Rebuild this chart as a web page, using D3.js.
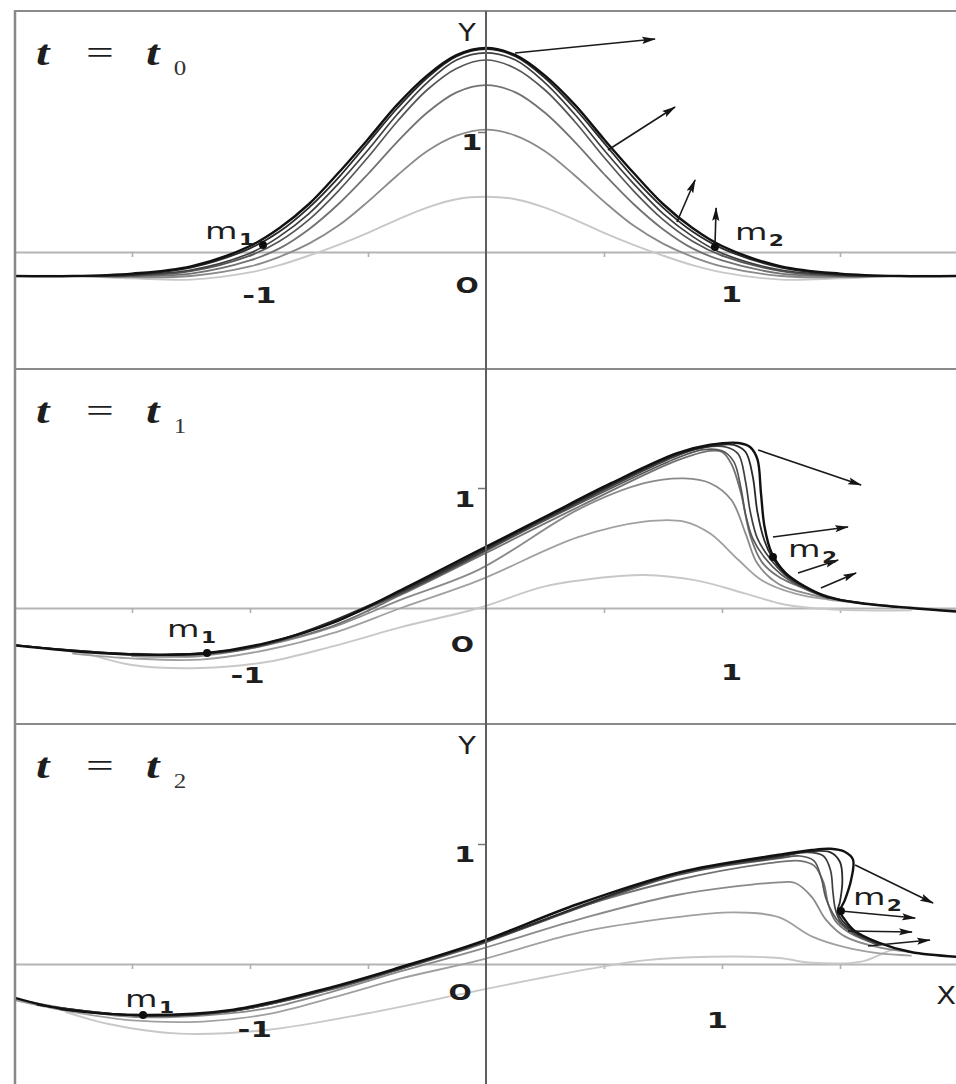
<!DOCTYPE html>
<html>
<head>
<meta charset="utf-8">
<script src="https://cdn.jsdelivr.net/npm/d3@7"></script>
<style>
  html, body { margin: 0; padding: 0; background: #fff; }
  svg { display: block; }
</style>
</head>
<body>
<svg id="fig" width="956" height="1084"></svg>
<script>
// ---------------- data ----------------
// Sample abscissae shared by the t = t0 profiles
const xGrid0 = [-2,-1.75,-1.5,-1.25,-1,-0.875,-0.75,-0.625,-0.5,-0.375,-0.25,-0.125,0,
                0.125,0.25,0.375,0.5,0.625,0.75,0.875,1,1.25,1.5,1.75,2];

// t = t0 : symmetric bell-shaped profiles
const t0Black = [-0.2,-0.2,-0.18,-0.12,0.05,0.2,0.4,0.66,0.94,1.23,1.47,1.64,1.70,1.64,1.47,1.23,0.94,0.66,0.4,0.2,0.05,-0.12,-0.18,-0.2,-0.2];
const t0Dark1 = [-0.2,-0.2,-0.19,-0.13,0.03,0.17,0.37,0.62,0.91,1.2,1.45,1.63,1.69,1.63,1.45,1.2,0.91,0.62,0.37,0.17,0.03,-0.13,-0.19,-0.2,-0.2];
const t0Dark2 = [-0.2,-0.2,-0.19,-0.15,-0.01,0.13,0.32,0.57,0.85,1.15,1.41,1.6,1.66,1.6,1.41,1.15,0.85,0.57,0.32,0.13,-0.01,-0.15,-0.19,-0.2,-0.2];
const t0Dark3 = [-0.2,-0.2,-0.2,-0.16,-0.03,0.09,0.27,0.51,0.79,1.09,1.35,1.53,1.6,1.53,1.35,1.09,0.79,0.51,0.27,0.09,-0.03,-0.16,-0.2,-0.2,-0.2];
const t0Grey1 = [-0.2,-0.2,-0.2,-0.18,-0.07,0.03,0.19,0.4,0.65,0.92,1.16,1.33,1.39,1.33,1.16,0.92,0.65,0.4,0.19,0.03,-0.07,-0.18,-0.2,-0.2,-0.2];
const t0Grey2 = [-0.2,-0.2,-0.21,-0.2,-0.12,-0.04,0.07,0.22,0.42,0.64,0.84,0.97,1.02,0.97,0.84,0.64,0.42,0.22,0.07,-0.04,-0.12,-0.2,-0.21,-0.2,-0.2];
const t0Grey3 = [-0.2,-0.2,-0.22,-0.23,-0.17,-0.11,-0.03,0.06,0.16,0.27,0.37,0.44,0.46,0.44,0.37,0.27,0.16,0.06,-0.03,-0.11,-0.17,-0.23,-0.22,-0.2,-0.2];

// t = t1 : steepening profiles, [x, y]
const t1Black = [[-2,-0.31],[-1.64,-0.375],[-1.35,-0.39],[-1.18,-0.375],[-0.93,-0.29],[-0.65,-0.125],[-0.36,0.15],[-0.03,0.48],[0.25,0.76],[0.53,1.04],[0.81,1.29],[0.95,1.36],[1.07,1.375],[1.12,1.34],[1.15,1.24],[1.165,0.96],[1.18,0.68],[1.21,0.46],[1.27,0.29],[1.35,0.18],[1.45,0.09],[1.59,0.04],[1.8,0.0],[2.0,-0.03]];
const t1Dark1 = [[-2,-0.31],[-1.35,-0.39],[-0.93,-0.295],[-0.36,0.14],[0.25,0.75],[0.81,1.28],[0.95,1.35],[1.05,1.36],[1.1,1.3],[1.13,1.1],[1.15,0.8],[1.18,0.56],[1.21,0.43],[1.27,0.28],[1.35,0.18],[1.45,0.09],[1.6,0.04]];
const t1Dark2 = [[-2,-0.31],[-1.35,-0.39],[-0.93,-0.3],[-0.36,0.13],[0.25,0.74],[0.81,1.27],[0.93,1.34],[1.02,1.34],[1.07,1.28],[1.1,1.05],[1.12,0.8],[1.15,0.58],[1.2,0.42],[1.27,0.27],[1.35,0.17],[1.45,0.09]];
const t1Dark3 = [[-1.6,-0.38],[-1.2,-0.385],[-0.93,-0.305],[-0.36,0.12],[0.25,0.73],[0.81,1.25],[0.92,1.32],[1.0,1.31],[1.05,1.22],[1.08,1.0],[1.1,0.78],[1.13,0.58],[1.18,0.42],[1.25,0.28],[1.35,0.16],[1.45,0.08]];
const t1Grey1 = [[-1.5,-0.38],[-1.21,-0.38],[-0.93,-0.3],[-0.65,-0.15],[-0.36,0.11],[-0.03,0.43],[0.4,0.85],[0.81,1.23],[0.95,1.31],[1.0,1.3],[1.04,1.2],[1.08,0.96],[1.12,0.6],[1.17,0.38],[1.24,0.26],[1.38,0.14],[1.5,0.07]];
const t1Grey2 = [[-1.5,-0.4],[-1.21,-0.4],[-0.93,-0.31],[-0.65,-0.16],[-0.36,0.07],[-0.03,0.32],[0.39,0.82],[0.67,1.04],[0.84,1.08],[0.95,1.04],[1.04,0.9],[1.1,0.62],[1.15,0.37],[1.24,0.2],[1.38,0.11],[1.55,0.05],[1.8,0.0]];
const t1Grey3 = [[-1.75,-0.38],[-1.5,-0.42],[-1.21,-0.43],[-0.93,-0.35],[-0.65,-0.21],[-0.36,0.0],[-0.03,0.23],[0.39,0.59],[0.67,0.72],[0.84,0.72],[0.95,0.62],[1.07,0.4],[1.17,0.23],[1.31,0.12],[1.45,0.07],[1.7,0.02],[2,-0.02]];
const t1Grey4 = [[-1.85,-0.34],[-1.71,-0.375],[-1.5,-0.475],[-1.21,-0.5],[-0.93,-0.45],[-0.65,-0.32],[-0.36,-0.16],[-0.03,0.0],[0.25,0.18],[0.53,0.26],[0.67,0.275],[0.89,0.23],[1.1,0.12],[1.24,0.04],[1.38,0.0],[1.6,-0.02],[1.8,-0.02]];

// t = t2 : overturning profiles, [x, y]
const t2Black = [[-2,-0.28],[-1.78,-0.38],[-1.45,-0.425],[-1.07,-0.38],[-0.65,-0.19],[-0.36,-0.025],[-0.03,0.18],[0.39,0.5],[0.81,0.76],[1.24,0.91],[1.38,0.95],[1.46,0.96],[1.52,0.935],[1.555,0.87],[1.547,0.7],[1.52,0.53],[1.5,0.44],[1.52,0.37],[1.56,0.28],[1.66,0.18],[1.8,0.1],[2.0,0.06]];
const t2Dark1 = [[-1.9,-0.34],[-1.45,-0.43],[-1.07,-0.385],[-0.65,-0.195],[-0.03,0.175],[0.81,0.755],[1.24,0.9],[1.38,0.94],[1.46,0.93],[1.5,0.85],[1.51,0.7],[1.5,0.52],[1.49,0.44],[1.51,0.36],[1.56,0.27],[1.66,0.18]];
const t2Dark2 = [[-1.9,-0.34],[-1.45,-0.43],[-1.07,-0.39],[-0.65,-0.2],[-0.03,0.17],[0.81,0.75],[1.24,0.89],[1.36,0.93],[1.43,0.9],[1.46,0.78],[1.47,0.6],[1.48,0.46],[1.5,0.36],[1.56,0.26],[1.66,0.17]];
const t2Dark3 = [[-1.8,-0.38],[-1.45,-0.43],[-1.07,-0.39],[-0.65,-0.205],[-0.03,0.165],[0.81,0.74],[1.24,0.88],[1.33,0.9],[1.39,0.86],[1.42,0.72],[1.44,0.55],[1.47,0.42],[1.5,0.34],[1.56,0.25],[1.66,0.16]];
const t2Grey1 = [[-1.45,-0.43],[-1.07,-0.39],[-0.65,-0.21],[-0.36,-0.04],[-0.03,0.16],[0.39,0.47],[0.81,0.7],[1.2,0.84],[1.33,0.86],[1.39,0.82],[1.43,0.68],[1.45,0.5],[1.48,0.36],[1.54,0.26],[1.66,0.16]];
const t2Grey2 = [[-2,-0.29],[-1.75,-0.38],[-1.5,-0.44],[-1.2,-0.43],[-0.93,-0.37],[-0.65,-0.23],[-0.36,-0.06],[-0.03,0.12],[0.39,0.37],[0.81,0.575],[1.24,0.68],[1.31,0.675],[1.38,0.56],[1.44,0.37],[1.52,0.23],[1.66,0.14],[1.8,0.1]];
const t2Grey3 = [[-2,-0.3],[-1.75,-0.4],[-1.5,-0.47],[-1.2,-0.48],[-0.93,-0.42],[-0.65,-0.28],[-0.36,-0.12],[-0.03,0.03],[0.39,0.26],[0.81,0.39],[1.05,0.43],[1.24,0.39],[1.38,0.23],[1.52,0.14],[1.66,0.09],[1.8,0.07]];
const t2Grey4 = [[-1.78,-0.4],[-1.6,-0.5],[-1.3,-0.58],[-0.93,-0.55],[-0.5,-0.41],[-0.03,-0.22],[0.25,-0.11],[0.5,-0.02],[0.67,0.03],[0.95,0.06],[1.24,0.05],[1.38,0.01],[1.59,0.02],[1.73,0.12],[1.8,0.1]];

// Velocity arrows: [x0, y0, x1, y1]
const t0Arrows = [[0.123,1.658,0.716,1.775],[0.517,0.85,0.801,1.208],[0.809,0.25,0.886,0.6],[0.97,0.042,0.975,0.367]];
const t1Arrows = [[1.153,1.317,1.589,1.025],[1.216,0.592,1.534,0.675],[1.322,0.292,1.492,0.4],[1.419,0.167,1.568,0.292]];
const t2Arrows = [[1.564,0.825,1.894,0.508],[1.504,0.442,1.818,0.383],[1.534,0.275,1.805,0.267],[1.619,0.15,1.881,0.2]];

// Marked points m1, m2: [x, y]
const t0Marks = [[-0.945,0.058],[0.97,0.042]];
const t1Marks = [[-1.182,-0.375],[1.216,0.425]];
const t2Marks = [[-1.453,-0.425],[1.504,0.442]];
const markNames = ["1","2"];

const timeSubscripts = ["0","1","2"];
const xTickValues = [-1.5,-1,-0.5,0.5,1,1.5];
const yTickValues = [1];

// ---------------- drawing ----------------
const W = 956, H = 1084;
const svg = d3.select("#fig");
const X = d3.scaleLinear().domain([-2, 2]).range([14, 958]);

const inks = {
  black: ["#111111", 2.4],
  dark1: ["#2a2a2a", 1.8],
  dark2: ["#3f3f3f", 1.7],
  dark3: ["#565656", 1.7],
  grey1: ["#727272", 1.8],
  grey2: ["#8a8a8a", 1.8],
  grey3: ["#a0a0a0", 1.8],
  grey4: ["#c8c8c8", 1.9]
};

const zip0 = ys => xGrid0.map((x, i) => [x, ys[i]]);

const panels = [
  { top: 11, bottom: 369, base: 252,
    series: [["grey4", zip0(t0Grey3)], ["grey2", zip0(t0Grey2)], ["grey1", zip0(t0Grey1)],
             ["dark3", zip0(t0Dark3)], ["dark2", zip0(t0Dark2)], ["dark1", zip0(t0Dark1)], ["black", zip0(t0Black)]],
    arrows: t0Arrows, marks: t0Marks,
    markOffsets: [[-58, -6], [20, -7]],
    labels: { yLetter: true, xLetter: false, minus1: [-0.96, 51], plus1: [1.04, 50], origin: [-0.08, 41], one: [-0.06, 18] } },
  { top: 369, bottom: 724, base: 608,
    series: [["grey4", t1Grey4], ["grey3", t1Grey3], ["grey2", t1Grey2], ["grey1", t1Grey1],
             ["dark3", t1Dark3], ["dark2", t1Dark2], ["dark1", t1Dark1], ["black", t1Black]],
    arrows: t1Arrows, marks: t1Marks,
    markOffsets: [[-40, -16], [15, 0]],
    labels: { yLetter: false, xLetter: false, minus1: [-1.01, 75], plus1: [1.04, 72], origin: [-0.1, 44], one: [-0.09, 19] } },
  { top: 724, bottom: 1084, base: 964,
    series: [["grey4", t2Grey4], ["grey3", t2Grey3], ["grey2", t2Grey2], ["grey1", t2Grey1],
             ["dark3", t2Dark3], ["dark2", t2Dark2], ["dark1", t2Dark1], ["black", t2Black]],
    arrows: t2Arrows, marks: t2Marks,
    markOffsets: [[-18, -8], [12, -6]],
    labels: { yLetter: true, xLetter: true, minus1: [-0.98, 73], plus1: [0.98, 64], origin: [-0.11, 36], one: [-0.09, 18] } }
];

const defs = svg.append("defs");
defs.append("marker")
  .attr("id", "head")
  .attr("viewBox", "0 -4 14 8")
  .attr("refX", 13).attr("refY", 0)
  .attr("markerWidth", 14).attr("markerHeight", 8)
  .attr("markerUnits", "userSpaceOnUse")
  .attr("orient", "auto")
  .append("path").attr("d", "M0,-3.6L14,0L0,3.6L2.5,0Z").attr("fill", "#151515");

const SX = 1.4; // horizontal stretch of lettering
function word(g, txt, px, py, o) {
  return g.append("text")
    .attr("transform", `translate(${px},${py}) scale(${o.sx || SX},1)`)
    .attr("text-anchor", o.anchor || "middle")
    .attr("font-family", o.family || "DejaVu Sans, sans-serif")
    .attr("font-size", o.size || 22)
    .attr("font-weight", o.weight || "normal")
    .attr("font-style", o.style || "normal")
    .attr("fill", o.fill || "#1e1e1e")
    .text(txt);
}

panels.forEach((p, i) => {
  const Y = d3.scaleLinear().domain([0, 1]).range([p.base, p.base - 120]);
  defs.append("clipPath").attr("id", "clip" + i)
    .append("rect").attr("x", 14).attr("y", p.top).attr("width", W - 14).attr("height", p.bottom - p.top);

  const g = svg.append("g");

  // x axis with small ticks
  const xa = g.append("g").attr("transform", `translate(0,${p.base})`)
    .call(d3.axisBottom(X).tickValues(xTickValues).tickSizeInner(5).tickSizeOuter(0).tickFormat(""));
  xa.select(".domain").attr("stroke", "#b4b4b4").attr("stroke-width", 2.2);
  xa.selectAll(".tick line").attr("stroke", "#b0b0b0").attr("stroke-width", 1.6);

  // y tick at 1
  const ya = g.append("g").attr("transform", `translate(${X(0)},0)`)
    .call(d3.axisLeft(Y).tickValues(yTickValues).tickSizeInner(8).tickSizeOuter(0).tickFormat(""));
  ya.select(".domain").remove();
  ya.selectAll(".tick line").attr("stroke", "#777").attr("stroke-width", 1.5);

  // profiles
  const line = d3.line().x(d => X(d[0])).y(d => Y(d[1])).curve(d3.curveCatmullRom.alpha(0.5));
  const cg = g.append("g").attr("clip-path", `url(#clip${i})`);
  cg.selectAll("path.profile").data(p.series).join("path")
    .attr("class", "profile")
    .attr("d", d => line(d[1]))
    .attr("fill", "none")
    .attr("stroke", d => inks[d[0]][0])
    .attr("stroke-width", d => inks[d[0]][1])
    .attr("stroke-linejoin", "round")
    .attr("stroke-linecap", "round");

  // arrows
  cg.selectAll("line.arrow").data(p.arrows).join("line")
    .attr("class", "arrow")
    .attr("x1", d => X(d[0])).attr("y1", d => Y(d[1]))
    .attr("x2", d => X(d[2])).attr("y2", d => Y(d[3]))
    .attr("stroke", "#1a1a1a").attr("stroke-width", 1.6)
    .attr("marker-end", "url(#head)");

  // marked points
  cg.selectAll("circle.mark").data(p.marks).join("circle")
    .attr("class", "mark")
    .attr("cx", d => X(d[0])).attr("cy", d => Y(d[1])).attr("r", 4)
    .attr("fill", "#0d0d0d");

  p.marks.forEach((m, k) => {
    const px = X(m[0]) + p.markOffsets[k][0], py = Y(m[1]) + p.markOffsets[k][1];
    const t = word(g, "m", px, py, { anchor: "start", size: 23, sx: 1.45 });
    t.append("tspan").attr("dy", 6).attr("dx", 1).attr("font-size", 15).attr("font-weight", "bold").text(markNames[k]);
  });

  // tick labels
  const L = p.labels;
  word(g, "-1", X(L.minus1[0]), p.base + L.minus1[1], { size: 22, weight: "bold" });
  word(g, "1", X(L.plus1[0]), p.base + L.plus1[1], { size: 22, weight: "bold" });
  word(g, "O", X(L.origin[0]), p.base + L.origin[1], { size: 21, weight: "bold", sx: 1.3 });
  word(g, "1", X(L.one[0]), Y(1) + L.one[1], { size: 22, weight: "bold" });
  if (L.yLetter) word(g, "Y", X(-0.08), p.top + 30, { size: 24, sx: 1.2 });
  if (L.xLetter) word(g, "X", X(1.95), p.base + 40, { size: 24, sx: 1.2 });

  // time caption
  const ty = p.top + 54;
  const serif = "Liberation Serif, DejaVu Serif, serif";
  word(g, "t", 36, ty, { anchor: "start", family: serif, size: 36, weight: "bold", style: "italic", sx: 1.35 });
  word(g, "=", 100, ty - 1, { family: serif, size: 34, sx: 1.45 });
  word(g, "t", 146, ty, { anchor: "start", family: serif, size: 36, weight: "bold", style: "italic", sx: 1.35 });
  word(g, timeSubscripts[i], 180, ty + 10, { family: serif, size: 20, sx: 1.25, fill: "#333" });
});

// frame, panel dividers and the vertical axis
const frame = svg.append("g");
frame.append("line").attr("x1", 15).attr("x2", 15).attr("y1", 10).attr("y2", H).attr("stroke", "#888").attr("stroke-width", 2.5);
[11, 369, 724].forEach(y => frame.append("line").attr("x1", 14).attr("x2", W).attr("y1", y).attr("y2", y)
  .attr("stroke", "#8a8a8a").attr("stroke-width", 2.2));
frame.append("line").attr("x1", X(0)).attr("x2", X(0)).attr("y1", 11).attr("y2", H)
  .attr("stroke", "#5e5e5e").attr("stroke-width", 2);
</script>
</body>
</html>
